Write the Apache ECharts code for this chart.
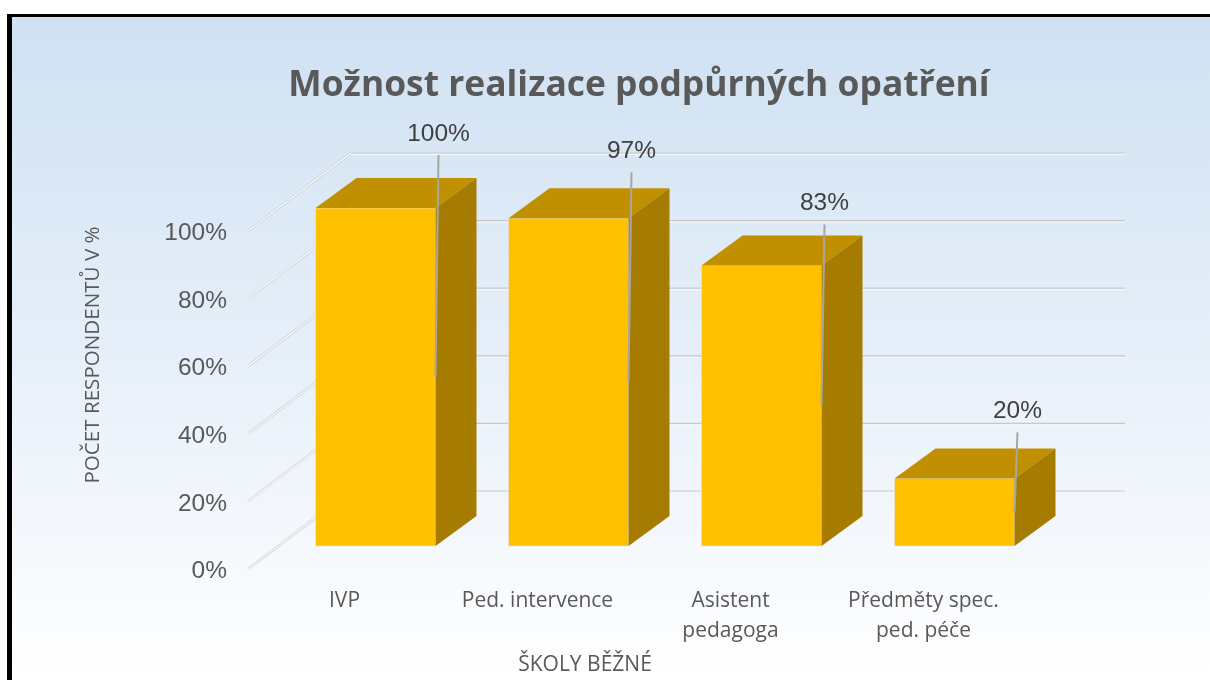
<!DOCTYPE html>
<html lang="cs">
<head>
    <meta charset="UTF-8">
    <title>Možnost realizace podpůrných opatření</title>
    <script src="https://cdn.jsdelivr.net/npm/echarts@6/dist/echarts.min.js"></script>
    <style>
        html, body { margin: 0; padding: 0; background: #fff; }
        #container { width: 1210px; height: 680px; }
    </style>
</head>
<body>
<div id="container"></div>

<script>
    var categories = ['IVP', 'Ped. intervence', 'Asistent\npedagoga', 'Předměty spec.\nped. péče'];
    var values = [100, 97, 83, 20];
    var yTicks = [0, 20, 40, 60, 80, 100];
    var titleText = 'Možnost realizace podpůrných opatření';
    var yName = 'POČET RESPONDENTŮ V %';
    var xName = 'ŠKOLY BĚŽNÉ';

    // pseudo 3D: how far the back wall and the bars are pushed from the axis plane
    var WALL_DX = 103, WALL_DY = -78;
    var BAR_DX = 31, BAR_DY = -23;
    var DEPTH_DX = 41, DEPTH_DY = -30;
    var BAR_WIDTH = 120;
    // how far above the bar front the label leader starts, label by label
    var leaderLift = [53, 46, 41, 46];

    function renderWall(params, api) {
        var rect = params.coordSys;
        var y = api.coord([0, api.value(0)])[1];
        var a = [rect.x, y];
        var b = [rect.x + WALL_DX, y + WALL_DY];
        var c = [rect.x + rect.width + WALL_DX + 2, y + WALL_DY];
        return {
            type: 'group',
            children: [
                {type: 'line', shape: {x1: a[0], y1: a[1], x2: b[0], y2: b[1]}, style: {stroke: '#c2c6cb', lineWidth: 2.4}},
                {type: 'line', shape: {x1: a[0], y1: a[1], x2: b[0], y2: b[1]}, style: {stroke: '#ffffff', lineWidth: 1.2}},
                {type: 'line', shape: {x1: b[0], y1: b[1] + 1.5, x2: c[0], y2: c[1] + 1.5}, style: {stroke: '#f4f6f8', lineWidth: 1.5}},
                {type: 'line', shape: {x1: b[0], y1: b[1], x2: c[0], y2: c[1]}, style: {stroke: '#c4c9ce', lineWidth: 1.2}}
            ]
        };
    }

    function renderBar(params, api) {
        var i = api.value(0);
        var v = api.value(1);
        var top = api.coord([i, v]);
        var base = api.coord([i, 0]);
        var mid = api.coord([i, v / 2]);
        var x0 = top[0] + BAR_DX - BAR_WIDTH / 2;
        var x1 = x0 + BAR_WIDTH;
        var yt = top[1] + BAR_DY;
        var yb = base[1] + BAR_DY;
        var ym = mid[1] + BAR_DY;
        var lineTop = [x1 + 3, yt - leaderLift[i]];
        return {
            type: 'group',
            children: [
                {type: 'rect', shape: {x: x0, y: yt, width: BAR_WIDTH, height: yb - yt},
                    style: {fill: '#ffc000', stroke: '#e6e6e6', lineWidth: 0.6}},
                {type: 'polygon', shape: {points: [[x0, yt], [x0 + DEPTH_DX, yt + DEPTH_DY], [x1 + DEPTH_DX, yt + DEPTH_DY], [x1, yt]]},
                    style: {fill: '#c09000'}},
                {type: 'polygon', shape: {points: [[x1, yt], [x1 + DEPTH_DX, yt + DEPTH_DY], [x1 + DEPTH_DX, yb + DEPTH_DY], [x1, yb]]},
                    style: {fill: '#a67c00'}},
                {type: 'line', shape: {x1: lineTop[0], y1: lineTop[1], x2: x1, y2: ym},
                    style: {stroke: '#a6a6a6', lineWidth: 2}},
                {type: 'text', style: {x: lineTop[0], y: lineTop[1] - 21, text: v + '%', fill: '#404040',
                    font: '24.5px "Liberation Sans"', textAlign: 'center', textVerticalAlign: 'middle'}}
            ]
        };
    }

    var myChart = echarts.init(document.getElementById('container'));
    var option = {
        animation: false,
        graphic: [
            {type: 'rect', z: -2, shape: {x: 7, y: 14, width: 1203, height: 666}, style: {fill: '#000'}},
            {type: 'rect', z: -1, shape: {x: 12, y: 17, width: 1198, height: 663},
                style: {fill: new echarts.graphic.LinearGradient(0, 0, 0, 1, [
                    {offset: 0, color: '#cfe1f2'},
                    {offset: 0.5, color: '#e6eff9'},
                    {offset: 1, color: '#ffffff'}
                ])}},
            {type: 'text', x: 639, y: 86,
                style: {text: titleText, font: 'bold 35.4px "Open Sans"', fill: '#595959', textAlign: 'center', textVerticalAlign: 'middle'}},
            {type: 'text', rotation: Math.PI / 2, x: 93, y: 355,
                style: {text: yName, font: '20.6px "Open Sans"', fill: '#595959', textAlign: 'center', textVerticalAlign: 'middle'}},
            {type: 'text', x: 585, y: 665,
                style: {text: xName, font: '21px "Open Sans"', fill: '#595959', textAlign: 'center', textVerticalAlign: 'middle'}}
        ],
        grid: {left: 248, right: 190, top: 231, bottom: 111},
        xAxis: {
            type: 'category',
            data: categories,
            axisLine: {show: false},
            axisTick: {show: false},
            axisLabel: {margin: 17, fontFamily: 'Open Sans', fontSize: 21, lineHeight: 30, color: '#595959', interval: 0}
        },
        yAxis: {
            type: 'value',
            min: 0,
            max: 100,
            interval: 20,
            axisLine: {show: false},
            axisTick: {show: false},
            splitLine: {show: false},
            axisLabel: {margin: 21, verticalAlign: 'top', lineHeight: 5, formatter: '{value}%', fontFamily: 'Liberation Sans', fontSize: 24.5, color: '#595959'}
        },
        series: [
            {type: 'custom', renderItem: renderWall, data: yTicks.map(function (t) { return [t]; }),
                encode: {y: 0}, silent: true, z: 1, clip: false},
            {type: 'custom', renderItem: renderBar, data: values.map(function (v, i) { return [i, v]; }),
                encode: {x: 0, y: 1}, z: 3, clip: false}
        ]
    };
    myChart.setOption(option);
</script>
</body>
</html>
